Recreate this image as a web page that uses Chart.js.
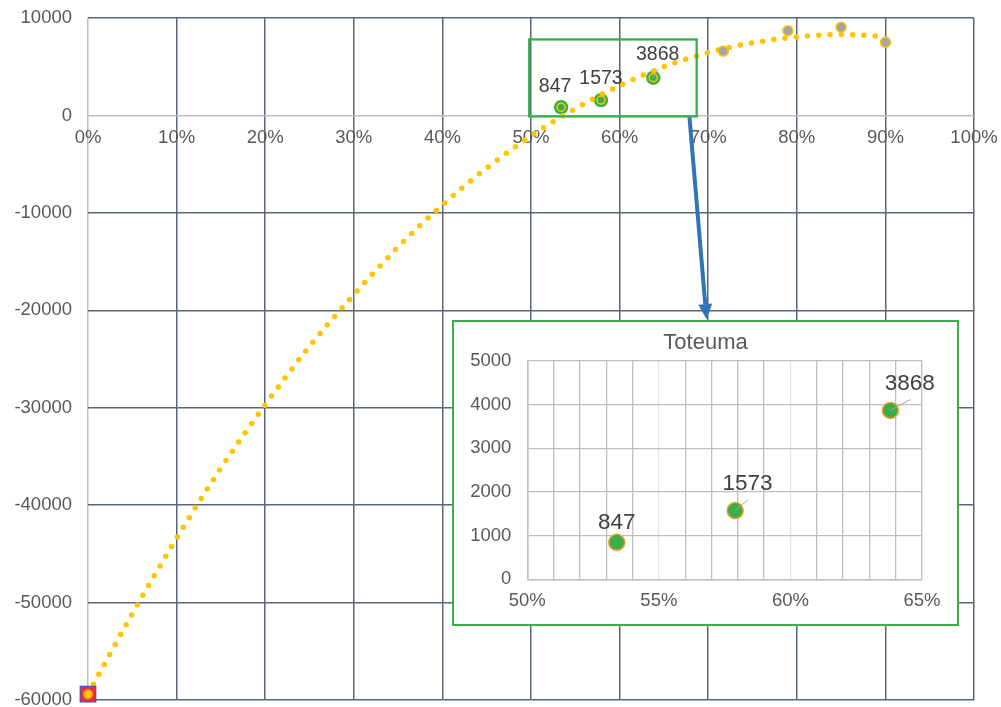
<!DOCTYPE html>
<html>
<head>
<meta charset="utf-8">
<script src="https://cdn.jsdelivr.net/npm/chart.js@4.4.1/dist/chart.umd.min.js"></script>
<style>
  html, body { margin: 0; padding: 0; background: #ffffff; }
  #wrap { position: relative; width: 1001px; height: 707px; overflow: hidden; }
  #main { position: absolute; left: 0; top: 0; }
  #insetBox {
    position: absolute; left: 452px; top: 320px; width: 507px; height: 306px;
    box-sizing: border-box; border: 2px solid #3AAE49; background: #ffffff;
  }
  #inset { display: block; }
</style>
</head>
<body>
<div id="wrap">
  <canvas id="main" width="1001" height="707"></canvas>
  <div id="insetBox"><canvas id="inset" width="503" height="302"></canvas></div>
</div>
<script>
// ---- data ----------------------------------------------------------------
// dotted trend curve (x in %, y in €)
const trendX = [0, 5, 10, 15, 20, 25, 30, 35, 40, 45, 50, 55, 60, 65, 70, 75, 80, 85, 90];
const trendY = [-59400, -51150, -43400, -36200, -29700, -23700, -18400, -13500, -9200, -5400,
                -2100, 700, 3050, 5000, 6450, 7450, 8050, 8300, 8100];

// starting point at 0 %
const startX = [0];
const startY = [-59400];

// realised points ("Toteuma")
const toteumaX = [53.4, 57.9, 63.8];
const toteumaY = [847, 1573, 3868];

// remaining points
const otherX = [71.7, 79.0, 85.0, 90.0];
const otherY = [6600, 8700, 9050, 7500];

// axis ranges / ticks
const mainXRange = [0, 100, 10];
const mainYRange = [-60000, 10000, 10000];
const insetXRange = [50, 65, 1];
const insetYRange = [0, 5000, 1000];

// zoom frame around the realised points (x %, y €)
const frameX = [49.8, 68.7];
const frameY = [-100, 7800];

// ---- helpers -------------------------------------------------------------
const FONT = "'Liberation Sans', Arial, Helvetica, sans-serif";
const TEXT = '#595959';
const GRID_DARK = '#57667D';
const GRID_LIGHT = '#BFBFBF';
const GREEN = '#3AAE49';
const GOLD = '#FFC400';

const pts = (xs, ys) => xs.map((x, i) => ({ x: x, y: ys[i] }));

// keep tick labels from pushing the plot area inwards
const noLabelPadding = s => {
  s.paddingTop = 0; s.paddingBottom = 0; s.paddingLeft = 0; s.paddingRight = 0;
};

// value labels with optional leader lines
const valueLabels = {
  id: 'valueLabels',
  afterDatasetsDraw(chart, args, opts) {
    const meta = chart.getDatasetMeta(opts.datasetIndex);
    const ds = chart.data.datasets[opts.datasetIndex];
    const ctx = chart.ctx;
    ctx.save();
    meta.data.forEach((pt, i) => {
      const lead = opts.leaders[i];
      if (lead) {
        ctx.strokeStyle = '#A6A6A6';
        ctx.lineWidth = 1;
        ctx.beginPath();
        ctx.moveTo(pt.x, pt.y);
        ctx.lineTo(pt.x + lead[0], pt.y + lead[1]);
        ctx.stroke();
      }
      const off = opts.offsets[i];
      ctx.font = opts.size + 'px ' + FONT;
      ctx.fillStyle = '#404040';
      ctx.textAlign = 'center';
      ctx.textBaseline = 'middle';
      ctx.fillText(String(ds.data[i].y), pt.x + off[0], pt.y + off[1]);
    });
    ctx.restore();
  }
};

// green frame and blue arrow pointing to the detail chart
const framePlugin = {
  id: 'frame',
  afterDraw(chart) {
    const { ctx, scales: { x, y } } = chart;
    const l = x.getPixelForValue(frameX[0]);
    const r = x.getPixelForValue(frameX[1]);
    const t = y.getPixelForValue(frameY[1]);
    const b = y.getPixelForValue(frameY[0]);
    ctx.save();
    ctx.strokeStyle = GREEN;
    ctx.lineWidth = 2.3;
    ctx.strokeRect(l, t, r - l, b - t);

    const sx = 689.5, sy = b + 1;
    const ex = 706.5, ey = 319;
    const dx = ex - sx, dy = ey - sy;
    const len = Math.hypot(dx, dy);
    const ux = dx / len, uy = dy / len;
    const headL = 15, headW = 7;
    const bx = ex - ux * headL, by = ey - uy * headL;
    ctx.strokeStyle = '#2E75B6';
    ctx.fillStyle = '#2E75B6';
    ctx.lineWidth = 4;
    ctx.beginPath();
    ctx.moveTo(sx, sy);
    ctx.lineTo(bx, by);
    ctx.stroke();
    ctx.beginPath();
    ctx.moveTo(ex, ey);
    ctx.lineTo(bx - uy * headW, by + ux * headW);
    ctx.lineTo(bx + uy * headW, by - ux * headW);
    ctx.closePath();
    ctx.fill();
    ctx.restore();
  }
};

// title of the detail chart
const insetTitle = {
  id: 'insetTitle',
  afterDraw(chart) {
    const ctx = chart.ctx;
    ctx.save();
    ctx.font = '22px ' + FONT;
    ctx.fillStyle = TEXT;
    ctx.textAlign = 'center';
    ctx.textBaseline = 'middle';
    ctx.fillText('Toteuma', chart.width / 2, 21);
    ctx.restore();
  }
};

// ---- main chart ----------------------------------------------------------
new Chart(document.getElementById('main'), {
  type: 'scatter',
  data: {
    datasets: [
      {
        type: 'line',
        data: pts(trendX, trendY),
        showLine: true,
        borderColor: GOLD,
        borderWidth: 5.5,
        borderDash: [0, 11.3],
        borderCapStyle: 'round',
        cubicInterpolationMode: 'monotone',
        pointRadius: 0,
        fill: false,
        clip: false,
        order: 2
      },
      {
        data: pts(toteumaX, toteumaY),
        pointRadius: 7.2,
        backgroundColor: GREEN,
        borderWidth: 0,
        order: 3
      },
      {
        data: pts(toteumaX, toteumaY),
        pointRadius: 4,
        backgroundColor: 'rgba(0,0,0,0)',
        borderColor: GOLD,
        borderWidth: 1.5,
        order: 1
      },
      {
        data: pts(otherX, otherY),
        pointRadius: 5,
        backgroundColor: '#A5A5A5',
        borderColor: GOLD,
        borderWidth: 1.5,
        order: 1
      },
      {
        data: pts(startX, startY),
        pointStyle: 'rect',
        pointRadius: 11,
        backgroundColor: '#E8303C',
        borderColor: '#5E4A9A',
        borderWidth: 1.2,
        clip: false,
        order: 1
      },
      {
        data: pts(startX, startY),
        pointRadius: 4.5,
        backgroundColor: GOLD,
        borderColor: '#F08A24',
        borderWidth: 1.5,
        clip: false,
        order: 0
      }
    ]
  },
  options: {
    responsive: false,
    devicePixelRatio: 1,
    animation: false,
    events: [],
    layout: { autoPadding: false, padding: { top: 18, right: 27, bottom: 7, left: 0 } },
    plugins: {
      legend: { display: false },
      tooltip: { enabled: false },
      valueLabels: {
        datasetIndex: 1,
        size: 19.5,
        offsets: [[-6, -20.5], [0, -21], [4.4, -23.3]],
        leaders: [null, null, [5, -9]]
      }
    },
    scales: {
      x: {
        type: 'linear',
        position: { y: 0 },
        min: mainXRange[0], max: mainXRange[1],
        ticks: {
          stepSize: mainXRange[2], autoSkip: false, maxRotation: 0,
          callback: v => v + '%',
          color: TEXT, font: { size: 18.5, family: FONT }, padding: 11
        },
        grid: {
          color: c => (c.tick && c.tick.value === 0) ? GRID_LIGHT : GRID_DARK,
          lineWidth: 1.5, drawTicks: false
        },
        border: { display: false },
        afterFit: noLabelPadding
      },
      y: {
        type: 'linear',
        position: 'left',
        min: mainYRange[0], max: mainYRange[1],
        ticks: {
          stepSize: mainYRange[2],
          callback: v => String(v),
          color: TEXT, font: { size: 18.5, family: FONT }, padding: 16
        },
        grid: {
          color: c => (c.tick && c.tick.value === 0) ? GRID_LIGHT : GRID_DARK,
          lineWidth: 1.5, drawTicks: false
        },
        border: { display: false },
        afterFit: s => { s.width = 88; noLabelPadding(s); }
      }
    }
  },
  plugins: [valueLabels, framePlugin]
});

// ---- detail chart --------------------------------------------------------
new Chart(document.getElementById('inset'), {
  type: 'scatter',
  data: {
    datasets: [
      {
        data: pts(toteumaX, toteumaY),
        pointRadius: 8,
        backgroundColor: GREEN,
        borderColor: '#F39A2C',
        borderWidth: 1.5
      }
    ]
  },
  options: {
    responsive: false,
    devicePixelRatio: 1,
    animation: false,
    events: [],
    layout: { autoPadding: false, padding: { top: 39, right: 35, bottom: 0, left: 0 } },
    plugins: {
      legend: { display: false },
      tooltip: { enabled: false },
      valueLabels: {
        datasetIndex: 0,
        size: 22.5,
        offsets: [[0, -20], [12.4, -27], [19.3, -26.7]],
        leaders: [null, [13, -11], [20, -11]]
      }
    },
    scales: {
      x: {
        type: 'linear',
        position: 'bottom',
        min: insetXRange[0], max: insetXRange[1],
        ticks: {
          stepSize: insetXRange[2], autoSkip: false, maxRotation: 0,
          callback: v => (v % 5 === 0 ? v + '%' : ''),
          color: TEXT, font: { size: 18.5, family: FONT }, padding: 11
        },
        grid: {
          color: c => (c.tick && (c.tick.value === 55 || c.tick.value === 60)) ? '#E6E6E6' : GRID_LIGHT,
          lineWidth: 1.3, drawTicks: false
        },
        border: { color: GRID_LIGHT, width: 1.5 },
        afterFit: s => { s.height = 44.7; noLabelPadding(s); }
      },
      y: {
        type: 'linear',
        position: 'left',
        min: insetYRange[0], max: insetYRange[1],
        ticks: {
          stepSize: insetYRange[2],
          callback: v => String(v),
          color: TEXT, font: { size: 18.5, family: FONT }, padding: 16
        },
        grid: { color: GRID_LIGHT, lineWidth: 1.3, drawTicks: false },
        border: { color: GRID_LIGHT, width: 1.5 },
        afterFit: s => { s.width = 73.3; noLabelPadding(s); }
      }
    }
  },
  plugins: [valueLabels, insetTitle]
});
</script>
</body>
</html>
